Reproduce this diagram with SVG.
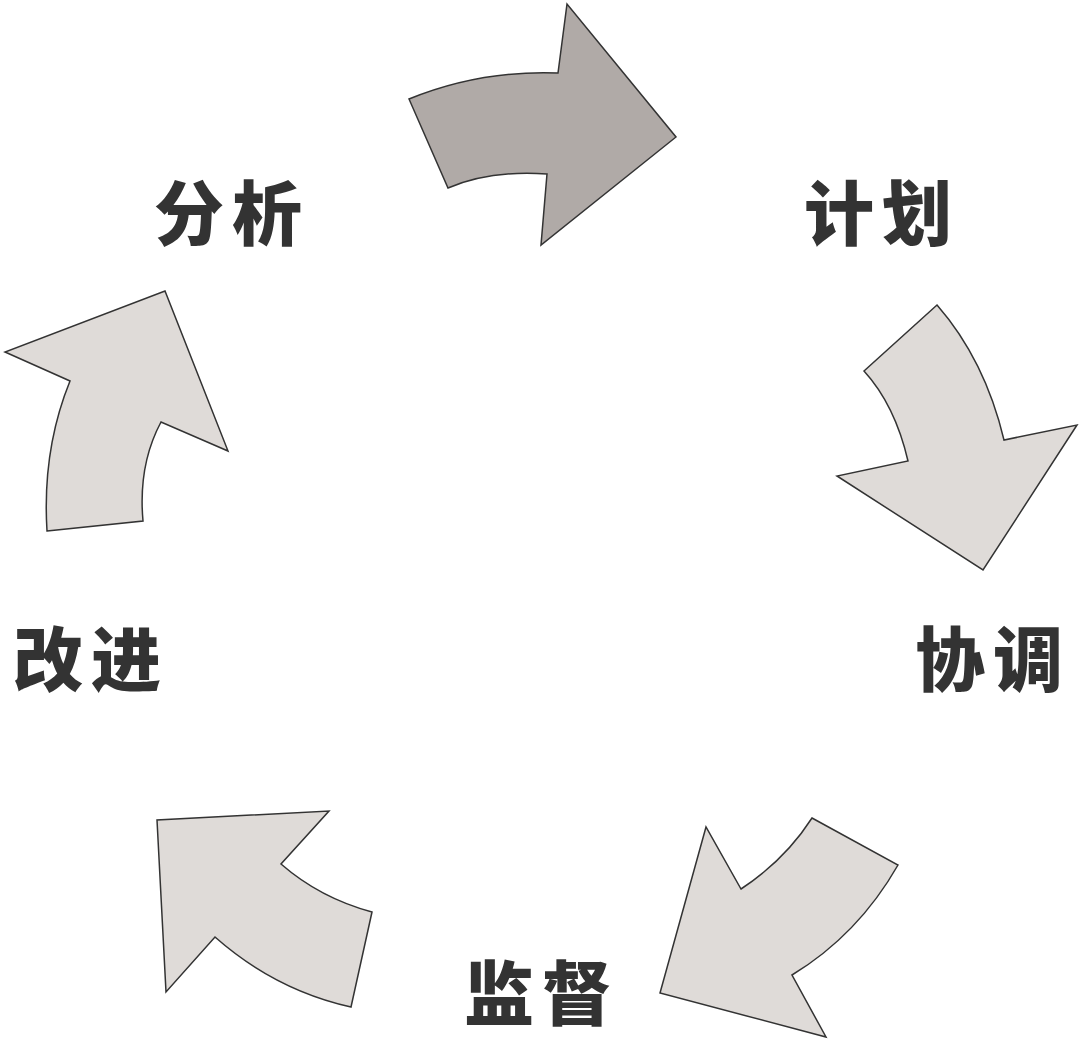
<svg xmlns="http://www.w3.org/2000/svg" width="1080" height="1040" viewBox="0 0 1080 1040">
<style>
.a{fill:#dfdbd8;stroke:#333;stroke-width:1.5;stroke-linejoin:miter}
.d{fill:#b0aaa7}
.t{font-family:"Noto Sans CJK SC",sans-serif;font-weight:900;font-size:70px;fill:#333;text-anchor:middle;letter-spacing:8px}
</style>
<rect width="1080" height="1040" fill="#fff"/>
<g id="connectors">
<path id="arrow-top" class="a d" d="M409,99 Q480,70 558,73 L567,4 L676,137 L541,245 L547,174 Q490,170 448,188 Z"/>
<path id="arrow-right" class="a" d="M864,371 L937,305 Q985,360 1004,440 L1077,425 L983,570 L837,476 L908,461 Q895,405 864,371 Z"/>
<path id="arrow-bottomright" class="a" d="M812,818 L898,865 Q858,935 792,975 L826,1037 L660,993 L706,827 L741,889 Q785,860 812,818 Z"/>
<path id="arrow-bottomleft" class="a" d="M372,912 L351,1007 Q275,990 215,937 L166,992 L157,820 L329,811 L281,864 Q320,898 372,912 Z"/>
<path id="arrow-left" class="a" d="M47,531 L143,521 Q138,465 161,422 L228,451 L165,291 L5,352 L70,381 Q42,450 47,531 Z"/>
</g>
<g id="n1"><text class="t" x="232" y="240">分析</text></g>
<g id="n2"><text class="t" x="882" y="240">计划</text></g>
<g id="n3"><text class="t" x="993" y="686">协调</text></g>
<g id="n4"><text class="t" x="542" y="1020">监督</text></g>
<g id="n5"><text class="t" x="91" y="686">改进</text></g>
</svg>
